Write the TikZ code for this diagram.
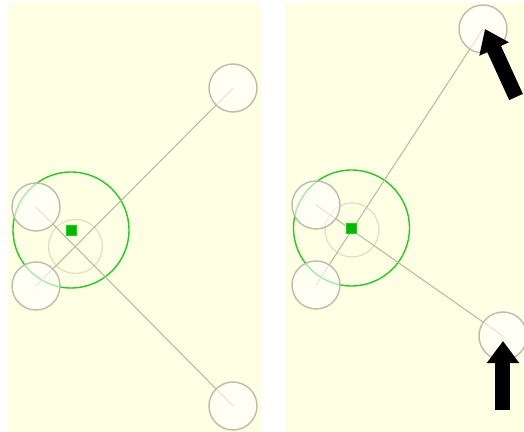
\documentclass[tikz,border=0pt]{standalone}
\usetikzlibrary{arrows.meta,calc}
\definecolor{paper}{RGB}{255,255,228}
\definecolor{rim}{RGB}{188,188,172}
\definecolor{rod}{RGB}{186,186,168}
\definecolor{halo}{RGB}{226,226,204}
\definecolor{hub}{RGB}{34,204,34}
\definecolor{hubfill}{RGB}{0,184,0}
\tikzset{
  wheel/.style={draw=rim, fill=white, fill opacity=0.6, thick},
  rodline/.style={draw=rod, line width=0.6pt},
  push/.style={-{Triangle[width=6.2mm,length=4.4mm]}, line width=3mm, black}
}
\begin{document}
\begin{tikzpicture}[x=0.2mm, y=-0.2mm]
    \useasboundingbox (0,0) rectangle (524,432);
    \fill[paper] (7,3) rectangle (261,432);
    \fill[paper] (285,3) rectangle (524,432);
    % left panel
    \coordinate (LA) at (36,207);
    \coordinate (LB) at (36,286);
    \coordinate (LC) at (233,88);
    \coordinate (LD) at (233,406);
    \coordinate (LX) at (75.5,246.5);
    \coordinate (LG) at (71,230);
    \draw[halo, thick] (LX) circle (27);
    \draw[hub, thick] (LG) circle (58);
    \draw[rodline] (LA) -- (LD);
    \draw[rodline] (LB) -- (LC);
    \foreach \p in {LA,LB,LC,LD} \draw[wheel] (\p) circle (24);
    \filldraw[hubfill, draw=hub] ($(LG)+(-5,-5)$) rectangle ($(LG)+(5,5)$);
    % right panel
    \coordinate (RA) at (316,205);
    \coordinate (RB) at (316,285);
    \coordinate (RC) at (483,29);
    \coordinate (RD) at (503,336);
    \coordinate (RX) at (352,230);
    \coordinate (RG) at (351.5,228);
    \draw[halo, thick] (RX) circle (27);
    \draw[hub, thick] (RG) circle (58);
    \draw[rodline] (RA) -- (RD);
    \draw[rodline] (RB) -- (RC);
    \foreach \p in {RA,RB,RC,RD} \draw[wheel] (\p) circle (24);
    \filldraw[hubfill, draw=hub] ($(RG)+(-5,-5)$) rectangle ($(RG)+(5,5)$);
    % pushes
    \coordinate (TT) at (516,97);
    \coordinate (BT) at (503,410);
    \draw[push] (TT) -- ($(RC)+(2,0)$);
    \draw[push] (BT) -- ($(RD)+(0,5)$);
\end{tikzpicture}
\end{document}
